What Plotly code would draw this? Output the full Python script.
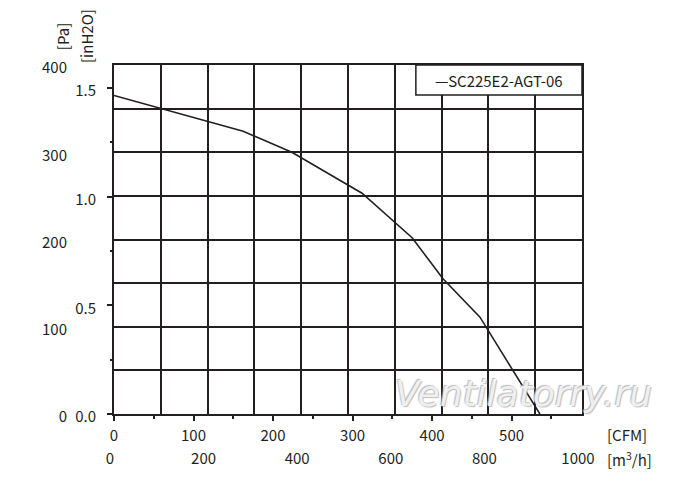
import plotly.graph_objects as go

# fan curve (flow in m3/h, static pressure in Pa)
model = 'SC225E2-AGT-06'
flow_m3h = [0, 100, 276, 380, 530, 637, 703, 782, 910]
pressure_pa = [365, 350, 324, 300, 253, 202, 155, 111, 0]

m3h_ticks = [0, 200, 400, 600, 800, 1000]
cfm_ticks = [0, 100, 200, 300, 400, 500]
pa_ticks = [0, 100, 200, 300, 400]
inh2o_ticks = [0.0, 0.5, 1.0, 1.5]

M3H_PER_CFM = 1.69901
PA_PER_INH2O = 249.089

ink = '#231f20'
font = 'Noto Sans CJK SC'

fig = go.Figure()
fig.add_trace(go.Scatter(
    x=flow_m3h, y=pressure_pa, mode='lines',
    line=dict(color=ink, width=1.6), name=model, showlegend=False
))
# same curve in CFM / inH2O so the second pair of axes gets drawn
fig.add_trace(go.Scatter(
    x=[f / M3H_PER_CFM for f in flow_m3h],
    y=[p / PA_PER_INH2O for p in pressure_pa],
    xaxis='x2', yaxis='y2', mode='lines', opacity=0,
    hoverinfo='skip', showlegend=False
))

# page body has an 8px margin, so the figure is drawn 8px smaller
fig.update_layout(
    width=692, height=486,
    margin=dict(l=106, r=118, t=57, b=80),
    paper_bgcolor='white', plot_bgcolor='white',
    font=dict(family=font, size=15, color=ink),
    xaxis=dict(
        range=[0, 1000], tickvals=m3h_ticks, ticks='',
        showgrid=True, gridcolor=ink, gridwidth=2,
        minor=dict(dtick=100, showgrid=True, gridcolor=ink, gridwidth=2),
        showline=True, mirror=True, linecolor=ink, linewidth=2,
        zeroline=False, ticklabelstandoff=30, ticklabelshift=-4,
    ),
    xaxis2=dict(
        range=[0, 1000 / M3H_PER_CFM], overlaying='x', side='bottom', anchor='y',
        tickvals=cfm_ticks, ticks='outside', ticklen=6, tickwidth=1.5, tickcolor=ink,
        minor=dict(dtick=50, ticks='outside', ticklen=4, tickwidth=1.5, tickcolor=ink),
        showgrid=False, zeroline=False, showline=False, ticklabelstandoff=2,
    ),
    yaxis=dict(
        range=[0, 400], tickvals=pa_ticks, ticks='',
        showgrid=True, gridcolor=ink, gridwidth=2,
        minor=dict(dtick=50, showgrid=True, gridcolor=ink, gridwidth=2),
        showline=True, mirror=True, linecolor=ink, linewidth=2,
        zeroline=False, ticklabelstandoff=42, ticklabelshift=3,
    ),
    yaxis2=dict(
        range=[0, 400 / PA_PER_INH2O], overlaying='y', side='left', anchor='x',
        tickvals=inh2o_ticks, tickformat='.1f',
        ticks='outside', ticklen=6, tickwidth=1.5, tickcolor=ink,
        minor=dict(dtick=0.25, ticks='outside', ticklen=3, tickwidth=1.5, tickcolor=ink),
        showgrid=False, zeroline=False, showline=False,
        ticklabelstandoff=8, ticklabelshift=3,
    ),
)

# legend box in the top right corner
fig.add_shape(type='rect', xref='paper', yref='paper',
              x0=0.645, x1=1, y0=0.914, y1=1,
              line=dict(color=ink, width=1.5), fillcolor='white', layer='above')
fig.add_annotation(text='\u2014' + model, xref='paper', yref='paper',
                   x=0.8225, y=0.957, xanchor='center', yanchor='middle',
                   showarrow=False, font=dict(size=15))

# axis units
fig.add_annotation(text='[Pa]', xref='paper', yref='paper', x=-0.111, y=1.08,
                   xanchor='center', yanchor='middle', textangle=-90, showarrow=False)
fig.add_annotation(text='[inH2O]', xref='paper', yref='paper', x=-0.060, y=1.083,
                   xanchor='center', yanchor='middle', textangle=-90, showarrow=False)
fig.add_annotation(text='[CFM]', xref='paper', yref='paper', x=1.049, y=-0.060,
                   xanchor='left', yanchor='middle', showarrow=False)
fig.add_annotation(text='[m<sup>3</sup>/h]', xref='paper', yref='paper', x=1.049, y=-0.129,
                   xanchor='left', yanchor='middle', showarrow=False)

# watermark
fig.add_annotation(text='Ventilatorry.ru', xref='paper', yref='paper', x=0.876, y=0.06,
                   xanchor='center', yanchor='middle', showarrow=False,
                   font=dict(family='DejaVu Sans', size=36, style='italic',
                             color='rgba(250,250,250,0.85)',
                             shadow='1px 1px 1px #b0b0b0, -1px -1px 1px #b0b0b0'))

fig.write_html('out.html')
